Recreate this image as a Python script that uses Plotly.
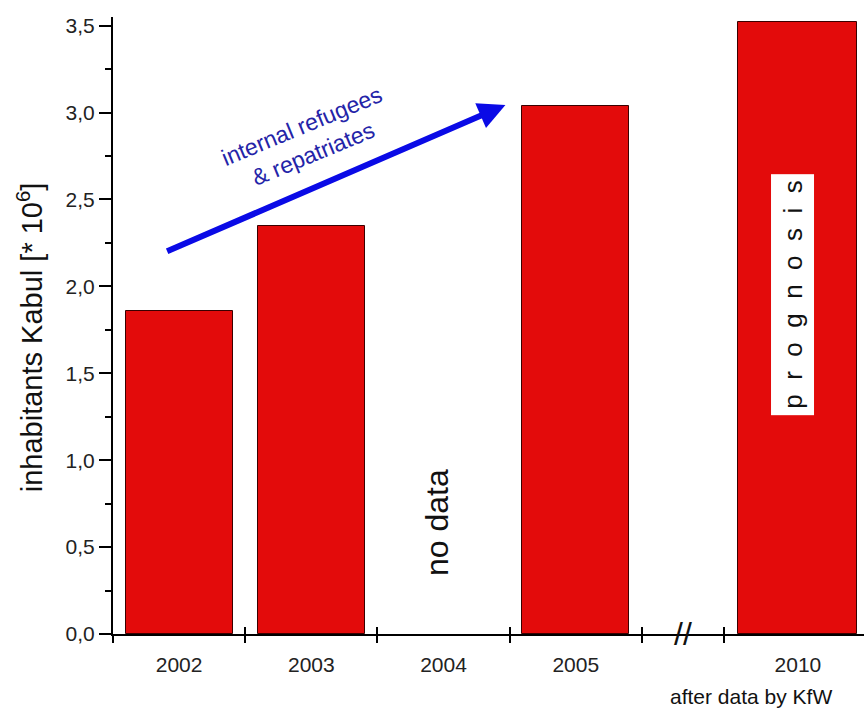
import plotly.graph_objects as go

# ---- data ----
years = ["2002", "2003", "2004", "2005", "2010"]
inhabitants = [1.86, 2.35, None, 3.04, 3.52]   # million
y_ticks = [0.0, 0.5, 1.0, 1.5, 2.0, 2.5, 3.0, 3.5]

# ---- layout constants (positions along broken x axis) ----
x_pos = [0, 1, 2, 3, 4.68]
bar_w = [0.81, 0.81, 0.81, 0.81, 0.9]
x_bounds = [-0.5, 0.5, 1.5, 2.5, 3.5, 4.12]
x_range = [-0.5, 5.18]
y_range = [0, 3.55]

RED = "#e30b0b"
FONT = "Liberation Sans, Arial, sans-serif"

xs = [p for p, v in zip(x_pos, inhabitants) if v is not None]
vs = [v for v in inhabitants if v is not None]
ws = [w for w, v in zip(bar_w, inhabitants) if v is not None]

fig = go.Figure()
fig.add_trace(go.Bar(
    x=xs, y=vs, width=ws,
    marker=dict(color=RED, line=dict(color="#3a0000", width=1)),
    showlegend=False, hoverinfo="skip",
))

axis_common = dict(range=x_range, showgrid=False, zeroline=False)
fig.update_layout(
    width=864, height=713, autosize=False,
    margin=dict(l=113, r=0, t=17, b=79),
    paper_bgcolor="white", plot_bgcolor="white",
    separators=",.",
    font=dict(family=FONT, color="#222"),
    xaxis=dict(
        **axis_common,
        tickvals=x_pos, ticktext=years,
        ticks="outside", ticklen=11, tickcolor="rgba(0,0,0,0)",
        tickfont=dict(size=21, color="#222"),
        showline=True, linecolor="black", linewidth=2,
    ),
    xaxis2=dict(
        **axis_common, overlaying="x", anchor="y", matches="x",
        tickvals=x_bounds, showticklabels=False,
        ticks="outside", ticklen=8, tickwidth=2, tickcolor="black",
        showline=False,
    ),
    xaxis3=dict(
        **axis_common, overlaying="x", anchor="y", matches="x",
        tickvals=x_bounds, showticklabels=False,
        ticks="inside", ticklen=7, tickwidth=2, tickcolor="black",
        showline=False,
    ),
    yaxis=dict(
        range=y_range, showgrid=False, zeroline=False,
        tickvals=y_ticks, tickformat=".1f",
        ticks="outside", ticklen=12, tickwidth=2, tickcolor="black",
        minor=dict(ticks="outside", ticklen=6, tickwidth=2, tickcolor="black", dtick=0.25, tick0=0),
        tickfont=dict(size=21, color="#222"),
        showline=True, linecolor="black", linewidth=2,
    ),
    bargap=0,
)

# dummy traces to activate overlay axes
fig.add_trace(go.Scatter(x=[x_range[0]], y=[0], xaxis="x2", mode="markers",
                         marker=dict(opacity=0), showlegend=False, hoverinfo="skip"))
fig.add_trace(go.Scatter(x=[x_range[0]], y=[0], xaxis="x3", mode="markers",
                         marker=dict(opacity=0), showlegend=False, hoverinfo="skip"))

# y-axis title
fig.add_annotation(
    xref="paper", yref="paper", x=-0.1105, y=0.481,
    text="inhabitants Kabul [* 10<sup>6</sup>]", textangle=-90,
    showarrow=False, xanchor="center", yanchor="middle",
    font=dict(size=29, color="#111", family=FONT),
)

# arrow
fig.add_annotation(
    x=2.468, y=3.044, ax=-0.102, ay=2.198, axref="x", ayref="y",
    xref="x", yref="y", text="", showarrow=True,
    arrowhead=2, arrowsize=0.9, arrowwidth=6, arrowcolor="#0a0ae6", standoff=0,
)
fig.add_annotation(
    x=0.97, y=2.84, xref="x", yref="y",
    text="internal refugees<br>& repatriates", textangle=-22.5,
    showarrow=False, font=dict(size=23, color="#2424a8", family=FONT),
)

# no data
fig.add_annotation(
    x=1.95, y=0.644, xref="x", yref="y", text="no data", textangle=-90,
    showarrow=False, font=dict(size=32, color="#111", family=FONT),
)

# prognosis
gap = "\u00a0\u00a0"
fig.add_annotation(
    x=4.64, y=1.95, xref="x", yref="y", text=gap.join("prognosis"), textangle=-90,
    showarrow=False, bgcolor="white", borderpad=6,
    font=dict(size=26, color="#111", family=FONT),
)

# axis break
fig.add_annotation(
    x=3.81, y=0, xref="x", yref="y", text="//", showarrow=False,
    xanchor="center", yanchor="middle",
    font=dict(size=32, color="#111", family=FONT),
)

# source note
fig.add_annotation(
    xref="paper", yref="paper", x=0.8495, y=-0.102, text="after data by KfW",
    showarrow=False, xanchor="center", yanchor="middle",
    font=dict(size=21, color="#111", family=FONT),
)

fig.write_html("out.html")
